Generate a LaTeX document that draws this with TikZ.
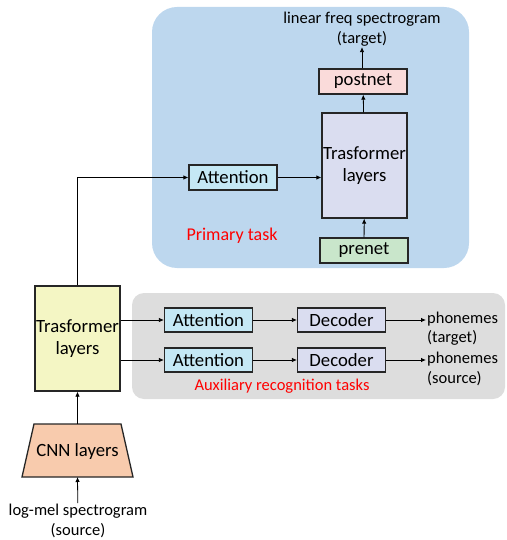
\documentclass[tikz,border=0pt]{standalone}
\usepackage{fontspec}
\setmainfont{Carlito}
\usetikzlibrary{arrows.meta}
\definecolor{panelblue}{HTML}{BDD7EE}
\definecolor{panelgray}{HTML}{DDDDDD}
\definecolor{attfill}{HTML}{C5E8F5}
\definecolor{lavfill}{HTML}{DADDF0}
\definecolor{postfill}{HTML}{FADBDA}
\definecolor{prefill}{HTML}{C9E6CB}
\definecolor{encfill}{HTML}{F4F6C4}
\definecolor{cnnfill}{HTML}{F8CBAD}
\begin{document}
\begin{tikzpicture}[x=1pt,y=-1pt,>={Latex[length=5pt,width=4.5pt]}]
        \tikzstyle{block}=[draw=black!85,line width=1.3pt,inner sep=0pt,font=\fontsize{18.7}{22}\selectfont,align=center]
        \tikzstyle{small}=[block,minimum width=88pt,minimum height=25pt]
        \tikzstyle{tall}=[block,minimum width=85pt,minimum height=105pt]
        \tikzstyle{caption}=[font=\fontsize{16.5}{19.5}\selectfont,align=center,inner sep=1pt]
        \tikzstyle{edge}=[draw,->,line width=0.8pt]
        \useasboundingbox (0,0) rectangle (506,540);
       % task panels
       \fill[panelblue,rounded corners=25pt] (152,7) rectangle (469,268);
       \fill[panelgray,rounded corners=12pt] (132,293) rectangle (505,399);
       \begin{scope}
         \node [caption] (spec) at (362,29) {linear freq spectrogram\\(target)};
         \node [small,fill=postfill] (post) at (363,81.5) {postnet};
         \node [tall,fill=lavfill] (tr1) at (364.5,165.5) {Trasformer\\layers};
         \node [small,fill=prefill] (pre) at (364,250.5) {prenet};
         \node [small,fill=attfill] (att0) at (233,177.5) {Attention};
         \node [caption,text=red,font=\fontsize{18}{20}\selectfont] (prim) at (232,236) {Primary task};
       \end{scope}
       \begin{scope}
         \node [tall,fill=encfill] (tr0) at (77.5,338.5) {Trasformer\\layers};
         \node [small,fill=attfill,minimum height=24pt] (att1) at (208.5,320) {Attention};
         \node [small,fill=attfill,minimum height=24pt] (att2) at (208.5,360) {Attention};
         \node [small,fill=lavfill,minimum height=24pt] (dec1) at (341.5,320) {Decoder};
         \node [small,fill=lavfill,minimum height=24pt] (dec2) at (341.5,360) {Decoder};
         \node [caption,align=left,anchor=west] (ph1) at (426,328.5) {phonemes\\(target)};
         \node [caption,align=left,anchor=west] (ph2) at (426,369) {phonemes\\(source)};
         \node [caption,text=red] (aux) at (282,386) {Auxiliary recognition tasks};
         % CNN trapezoid
         \filldraw[fill=cnnfill,draw=black!85,line width=1.3pt,line join=miter] (34,424) -- (121,424) -- (133,477) -- (22,477) -- cycle;
         \coordinate (cnntop) at (77.5,424);
         \coordinate (cnnbot) at (77.5,477);
         \node [block,draw=none] (cnn) at (77.5,452) {CNN layers};
         \node [caption] (mel) at (78,521) {log-mel spectrogram\\(source)};
       \end{scope}
       % connectors
       \path[edge] (spec.south |- post.north) -- (spec.south);
       \path[edge] (tr1) -- (post);
       \path[edge] (pre) -- (tr1);
       \path[edge] (att0) -- (att0 -| tr1.west);
       \path[edge] (tr0.north) |- (att0.west);
       \path[edge] (tr0.east |- att1) -- (att1);
       \path[edge] (tr0.east |- att2) -- (att2);
       \path[edge] (att1) -- (dec1);
       \path[edge] (att2) -- (dec2);
       \path[edge] (dec1) -- (dec1 -| ph1.west);
       \path[edge] (dec2) -- (dec2 -| ph2.west);
       \path[edge] (cnntop) -- (tr0);
       \path[edge] (mel) -- (cnnbot);
      \end{tikzpicture}
\end{document}
